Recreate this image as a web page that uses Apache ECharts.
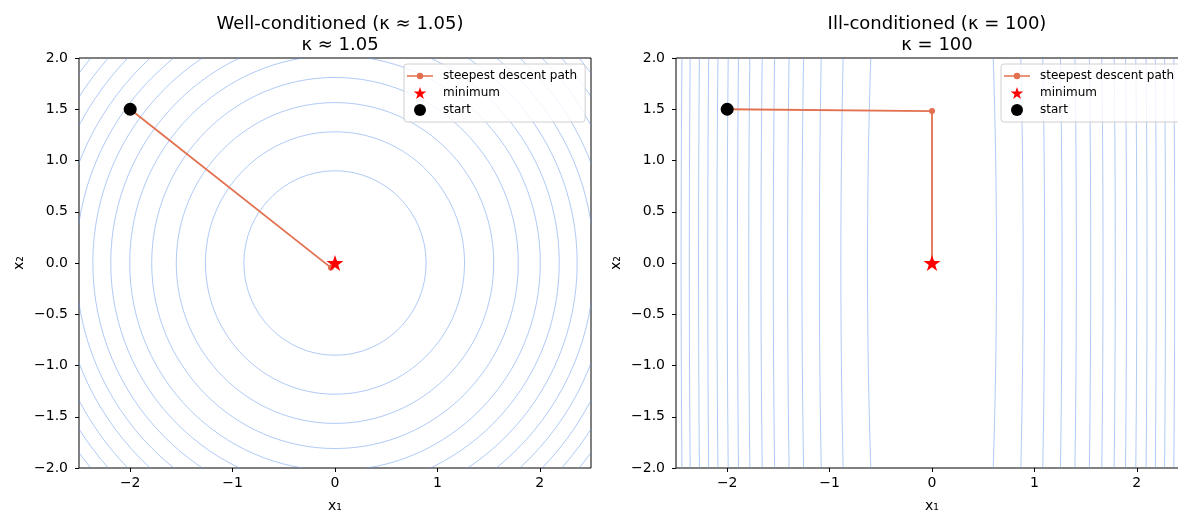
<!DOCTYPE html>
<html>
<head>
<meta charset="utf-8">
<script src="https://cdn.jsdelivr.net/npm/echarts@6/dist/echarts.min.js"></script>
<style>
html,body{margin:0;padding:0;background:#fff;}
#chart{width:1178px;height:512px;}
</style>
</head>
<body>
<div id="chart"></div>
<script>
// ---- data ----
const titleLeft = 'Well-conditioned (κ ≈ 1.05)\nκ ≈ 1.05';
const titleRight = 'Ill-conditioned (κ = 100)\nκ = 100';
const xTicks = [-2, -1, 0, 1, 2];
const yTicks = [-2, -1.5, -1, -0.5, 0, 0.5, 1, 1.5, 2];

// contour semi-axes (x and y) of the left panel
const leftContourRx = [0.89, 1.265, 1.55, 1.79, 2.005, 2.19, 2.365, 2.53, 2.68, 2.83, 2.97, 3.10];
const leftContourRy = [0.90, 1.28, 1.565, 1.81, 2.025, 2.21, 2.39, 2.555, 2.705, 2.86, 3.00, 3.13];
// contour semi-axes of the right panel
const rightContourRx = [0.63, 0.89, 1.10, 1.27, 1.41, 1.55, 1.67, 1.79, 1.90, 2.00, 2.10, 2.19, 2.28, 2.37, 2.45];
const rightContourRy = [6.3, 8.9, 11.0, 12.7, 14.1, 15.5, 16.7, 17.9, 19.0, 20.0, 21.0, 21.9, 22.8, 23.7, 24.5];

const leftPath = [[-2, 1.5], [-0.04, -0.045], [0.0, 0.0]];
const rightPath = [[-2, 1.5], [0.0, 1.482], [0.0, 0.005]];
const minimumPoint = [0, 0];
const startPoint = [-2, 1.5];

// ---- styling ----
const FONT = 'DejaVu Sans';
const PATH_COLOR = '#e2704f';
const CONTOUR_COLOR = 'rgba(100,149,237,0.5)';
const STAR = 'path://M50,0 L61.23,34.55 L97.55,34.55 L68.17,55.9 L79.39,90.45 L50,69.1 L20.61,90.45 L31.83,55.9 L2.45,34.55 L38.77,34.55 Z';
const LINE_DOT_ICON = 'path://M0,0 L0.01,0 L0.01,0.01 Z M0,5.15 L26,5.15 L26,6.85 L0,6.85 Z M16.2,6 A3.2,3.2 0 1 1 9.8,6 A3.2,3.2 0 1 1 16.2,6 Z M26,12 L25.99,12 L25.99,11.99 Z';

const fmtY = v => (v < 0 ? '\u2212' : '') + Math.abs(v).toFixed(1);
const fmtX = v => (v < 0 ? '\u2212' : '') + Math.abs(Math.round(v));

function xAxisDef(idx) {
  return {
    type: 'value', gridIndex: idx, min: -2.5, max: 2.5, position: 'bottom',
    name: 'x\u2081', nameLocation: 'middle', nameGap: 31,
    nameTextStyle: {fontFamily: FONT, fontSize: 14, color: '#000'},
    axisLine: {show: false, onZero: false},
    axisTick: {show: true, inside: false, length: 4, lineStyle: {color: '#000', width: 1}, customValues: xTicks},
    axisLabel: {fontFamily: FONT, fontSize: 14, color: '#000', margin: 8, formatter: fmtX, customValues: xTicks},
    splitLine: {show: false}
  };
}
function yAxisDef(idx) {
  return {
    type: 'value', gridIndex: idx, min: -2, max: 2, interval: 0.5, position: 'left',
    name: 'x\u2082', nameLocation: 'middle', nameGap: 53,
    nameTextStyle: {fontFamily: FONT, fontSize: 14, color: '#000'},
    axisLine: {show: false, onZero: false},
    axisTick: {show: true, inside: false, length: 4, lineStyle: {color: '#000', width: 1}},
    axisLabel: {fontFamily: FONT, fontSize: 14, color: '#000', margin: 11, formatter: fmtY},
    splitLine: {show: false}
  };
}

function contourSeries(idx, rxs, rys) {
  return {
    type: 'custom', xAxisIndex: idx, yAxisIndex: idx, clip: true, silent: true, z: 1,
    data: rxs.map((r, i) => [r, rys[i]]),
    renderItem: function (params, api) {
      const c = api.coord([0, 0]);
      const s = api.size([api.value(0), api.value(1)]);
      return {
        type: 'ellipse',
        shape: {cx: c[0], cy: c[1], rx: s[0], ry: s[1]},
        style: {fill: 'none', stroke: CONTOUR_COLOR, lineWidth: 1}
      };
    }
  };
}
function pathSeries(idx, pts) {
  return {
    type: 'line', name: 'steepest descent path', xAxisIndex: idx, yAxisIndex: idx, z: 3,
    data: pts, symbol: 'circle', symbolSize: 6, showSymbol: true,
    color: PATH_COLOR, lineStyle: {color: PATH_COLOR, width: 1.8},
    itemStyle: {color: PATH_COLOR}, animation: false
  };
}
function minSeries(idx) {
  return {
    type: 'scatter', name: 'minimum', xAxisIndex: idx, yAxisIndex: idx, z: 5,
    data: [minimumPoint], symbol: STAR, symbolSize: 17, symbolKeepAspect: true,
    itemStyle: {color: '#ff0000', opacity: 1}
  };
}
function startSeries(idx) {
  return {
    type: 'scatter', name: 'start', xAxisIndex: idx, yAxisIndex: idx, z: 4,
    data: [startPoint], symbol: 'circle', symbolSize: 13,
    itemStyle: {color: '#000000', opacity: 1}
  };
}
function legendDef(left) {
  return {
    left: left, top: 64, orient: 'vertical',
    itemWidth: 26, itemHeight: 12, itemGap: 5,
    padding: [6, 8, 6, 3],
    backgroundColor: 'rgba(255,255,255,0.8)', borderColor: '#d0d0d0', borderWidth: 1, borderRadius: 3,
    textStyle: {fontFamily: FONT, fontSize: 12, color: '#000', lineHeight: 12, padding: [0, 0, 0, 5]},
    selectedMode: false,
    data: [
      {name: 'steepest descent path', icon: LINE_DOT_ICON},
      {name: 'minimum', icon: STAR},
      {name: 'start', icon: 'circle'}
    ]
  };
}

const chart = echarts.init(document.getElementById('chart'), null, {renderer: 'canvas'});
chart.setOption({
  animation: false,
  backgroundColor: '#ffffff',
  title: [
    {text: titleLeft, left: 335, top: 9, textAlign: 'center',
     textStyle: {fontFamily: FONT, fontSize: 18, fontWeight: 'normal', color: '#000', lineHeight: 21}},
    {text: titleRight, left: 932, top: 9, textAlign: 'center',
     textStyle: {fontFamily: FONT, fontSize: 18, fontWeight: 'normal', color: '#000', lineHeight: 21}}
  ],
  legend: [legendDef(404), legendDef(1001)],
  grid: [
    {left: 79, top: 58, width: 512, height: 410, show: true, borderColor: '#000', borderWidth: 1, backgroundColor: 'transparent', containLabel: false, outerBoundsMode: 'none'},
    {left: 676, top: 58, width: 512, height: 410, show: true, borderColor: '#000', borderWidth: 1, backgroundColor: 'transparent', containLabel: false, outerBoundsMode: 'none'}
  ],
  xAxis: [xAxisDef(0), xAxisDef(1)],
  yAxis: [yAxisDef(0), yAxisDef(1)],
  series: [
    contourSeries(0, leftContourRx, leftContourRy),
    pathSeries(0, leftPath),
    startSeries(0),
    minSeries(0),
    contourSeries(1, rightContourRx, rightContourRy),
    pathSeries(1, rightPath),
    startSeries(1),
    minSeries(1)
  ]
});
</script>
</body>
</html>
